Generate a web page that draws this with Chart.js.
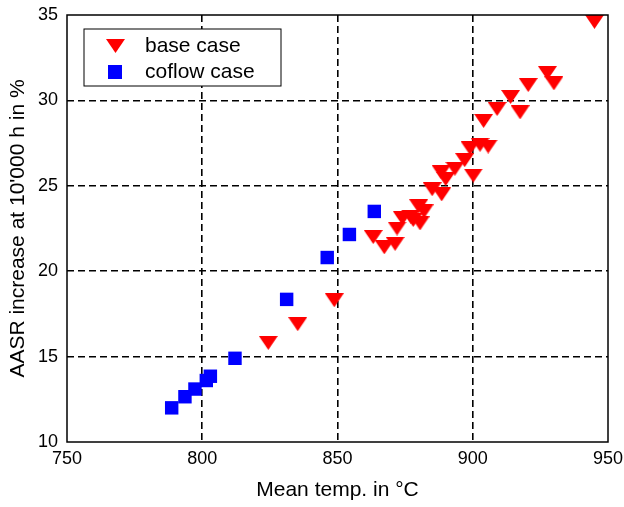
<!DOCTYPE html>
<html>
<head>
<meta charset="utf-8">
<script src="https://cdn.jsdelivr.net/npm/chart.js@4/dist/chart.umd.min.js"></script>
<style>
  body { margin: 0; background: #fff; }
  #wrap { width: 624px; height: 507px; }
</style>
</head>
<body>
<div id="wrap"><canvas id="myChart" width="624" height="507"></canvas></div>
<script>
// data
const baseTemp = [824.4, 835.3, 848.8, 863.2, 867.3, 871.3, 872, 874, 877, 878, 880, 880.5, 882, 885, 888.5, 888.3, 890, 893.4, 897, 899, 900.2, 902.7, 904, 905.7, 909, 914, 917.5, 920.5, 927.6, 930, 945];
const baseAasr = [15.8, 16.9, 18.3, 22.0, 21.4, 21.6, 22.5, 23.1, 23.2, 23.0, 23.8, 22.8, 23.5, 24.8, 24.5, 25.8, 25.4, 26.0, 26.5, 27.2, 25.6, 27.4, 28.8, 27.3, 29.5, 30.2, 29.3, 30.9, 31.6, 31.0, 34.6];
const coflowTemp = [788.7, 793.6, 797.3, 801.5, 803, 812.1, 831.2, 846.2, 854.4, 863.6];
const coflowAasr = [12.0, 12.65, 13.1, 13.6, 13.85, 14.9, 18.35, 20.8, 22.15, 23.5];
const xTicks = [750, 800, 850, 900, 950];
const yTicks = [10, 15, 20, 25, 30, 35];

const FONT = "'Liberation Sans', Arial, Helvetica, sans-serif";

// downward triangle marker
function makeTri(w, h, color) {
  const c = document.createElement('canvas');
  c.width = w; c.height = h;
  const g = c.getContext('2d');
  g.fillStyle = color;
  g.beginPath();
  g.moveTo(0, 0); g.lineTo(w, 0); g.lineTo(w / 2, h); g.closePath();
  g.fill();
  return c;
}
const triMarker = makeTri(19, 14, '#ff0000');

const frameAndLegend = {
  id: 'frameAndLegend',
  afterDatasetsDraw(chart) {
    const { ctx, chartArea: a } = chart;
    ctx.save();
    ctx.strokeStyle = '#000';
    ctx.lineWidth = 1.5;
    ctx.setLineDash([]);
    ctx.strokeRect(a.left, a.top, a.right - a.left, a.bottom - a.top);
    // legend box
    ctx.fillStyle = '#fff';
    ctx.fillRect(84, 29, 197, 57);
    ctx.lineWidth = 1;
    ctx.strokeRect(84, 29, 197, 57);
    ctx.drawImage(triMarker, 106, 39);
    ctx.fillStyle = '#0000ff';
    ctx.fillRect(108, 65, 14, 14);
    ctx.fillStyle = '#000';
    ctx.font = '21px ' + FONT;
    ctx.textBaseline = 'middle';
    ctx.fillText(chart.data.datasets[0].label, 145, 46);
    ctx.fillText(chart.data.datasets[1].label, 145, 72);
    ctx.restore();
  }
};

const gridColor = (ctx) => {
  const v = ctx.tick && ctx.tick.value;
  const s = ctx.scale;
  return (v === s.min || v === s.max) ? 'rgba(0,0,0,0)' : '#000';
};

new Chart(document.getElementById('myChart'), {
  type: 'scatter',
  data: {
    datasets: [
      {
        label: 'base case',
        data: baseTemp.map((t, i) => ({ x: t, y: baseAasr[i] })),
        pointStyle: triMarker,
        backgroundColor: '#ff0000',
        borderColor: '#ff0000'
      },
      {
        label: 'coflow case',
        data: coflowTemp.map((t, i) => ({ x: t, y: coflowAasr[i] })),
        pointStyle: 'rect',
        pointRadius: 9.5,
        borderWidth: 0,
        backgroundColor: '#0000ff',
        borderColor: '#0000ff'
      }
    ]
  },
  options: {
    responsive: false,
    animation: false,
    layout: { padding: { left: 0, top: 15, right: 16, bottom: 0 } },
    plugins: { legend: { display: false }, tooltip: { enabled: false } },
    scales: {
      x: {
        type: 'linear',
        min: xTicks[0],
        max: xTicks[xTicks.length - 1],
        afterBuildTicks: (s) => { s.ticks = xTicks.map(v => ({ value: v })); },
        afterFit: (s) => { s.height = 65; s.paddingLeft = 0; s.paddingRight = 0; },
        grid: { color: gridColor, lineWidth: 1.6, drawTicks: false },
        border: { display: false, dash: [7, 4] },
        ticks: { color: '#000', padding: 6, font: { family: FONT, size: 18 } },
        title: { display: true, text: 'Mean temp. in °C', color: '#000', padding: { top: 10 }, font: { family: FONT, size: 21 } }
      },
      y: {
        type: 'linear',
        min: yTicks[0],
        max: yTicks[yTicks.length - 1],
        afterBuildTicks: (s) => { s.ticks = yTicks.map(v => ({ value: v })); },
        afterFit: (s) => { s.width = 67; s.paddingTop = 0; s.paddingBottom = 0; },
        grid: { color: gridColor, lineWidth: 1.6, drawTicks: false },
        border: { display: false, dash: [7, 4] },
        ticks: { color: '#000', padding: 9, font: { family: FONT, size: 18 } },
        title: { display: true, text: "AASR increase at 10'000 h in %", color: '#000', padding: { top: 6 }, font: { family: FONT, size: 21 } }
      }
    }
  },
  plugins: [frameAndLegend]
});
</script>
</body>
</html>
